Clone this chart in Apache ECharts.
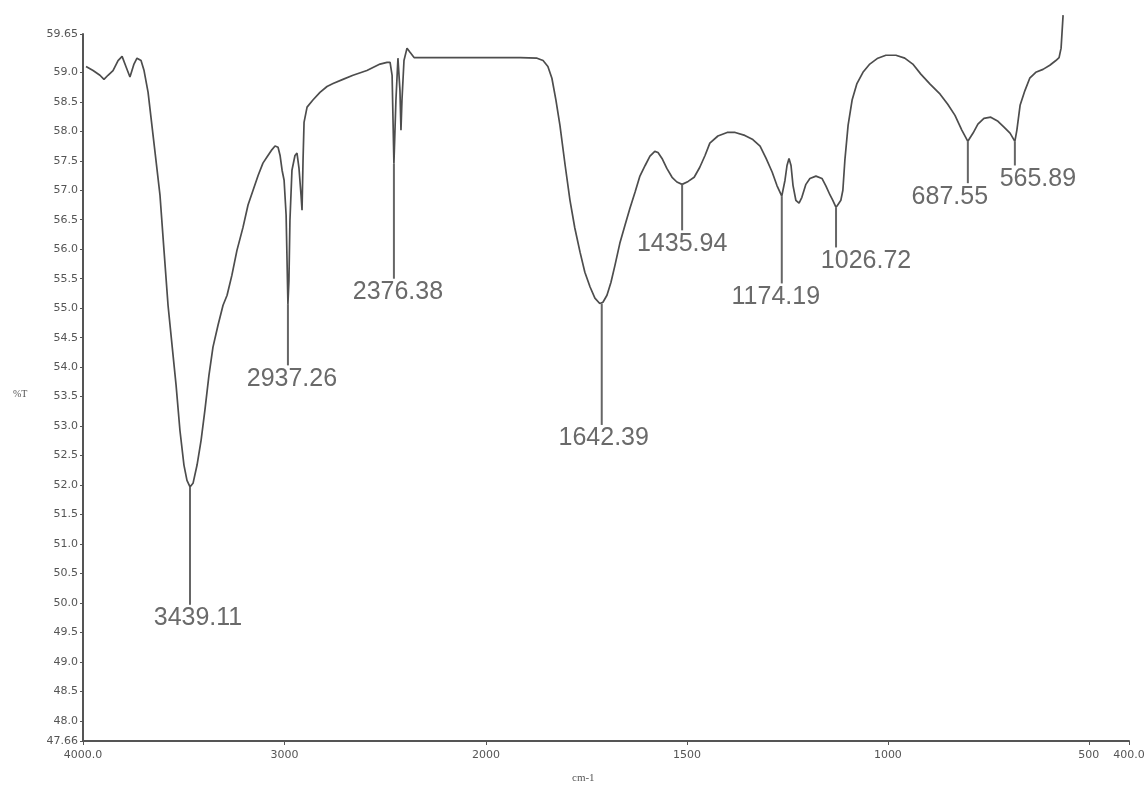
<!DOCTYPE html>
<html>
<head>
<meta charset="utf-8">
<script src="https://cdn.jsdelivr.net/npm/echarts@6/dist/echarts.min.js"></script>
<style>html,body{margin:0;padding:0;background:#fff;}#c{width:1148px;height:787px;}</style>
</head>
<body>
<div id="c"></div>
<script>
// Spectrum (axis units: cm-1, %T)
const waveLeft = [3985,3950,3916,3896,3876,3851,3826,3806,3787,3767,3747,3732,3712,3697,3677,3658,3638,3618,3598,3578,3558,3538,3519,3499,3484,3469,3454,3434,3414,3395,3375,3355,3330,3305,3285,3261,3236,3206,3181,3156,3131,3107,3082,3062,3047,3032,3022,3012,3002,2992,2983,2978,2973,2963,2948,2938,2928,2918,2913,2908,2903,2888,2859,2824,2789,2759,2710,2660,2591,2526,2491,2476,2466,2457,2447,2437,2427,2422,2417,2407,2392,2377,2357,2278,2129,2000];
const transLeft = [59.10,59.03,58.95,58.88,58.95,59.03,59.20,59.27,59.10,58.92,59.14,59.24,59.20,59.03,58.66,58.10,57.51,56.92,55.98,55.05,54.37,53.69,52.93,52.34,52.08,51.97,52.03,52.34,52.76,53.27,53.86,54.34,54.71,55.05,55.22,55.56,55.98,56.37,56.75,57.00,57.25,57.46,57.59,57.69,57.75,57.73,57.59,57.34,57.17,56.58,55.07,55.47,56.49,57.34,57.59,57.63,57.37,56.92,56.66,57.51,58.15,58.41,58.53,58.66,58.76,58.81,58.88,58.95,59.03,59.14,59.17,59.17,58.95,57.45,58.53,59.24,58.69,58.02,58.53,59.20,59.41,59.34,59.25,59.25,59.25,59.25];
const waveRight = [2000,1915,1873,1858,1846,1836,1826,1816,1803,1791,1779,1766,1754,1741,1729,1717,1709,1699,1689,1679,1667,1654,1642,1629,1617,1604,1592,1580,1572,1562,1550,1537,1525,1512,1497,1482,1468,1455,1443,1423,1400,1380,1356,1336,1318,1303,1288,1276,1264,1256,1251,1246,1241,1236,1229,1221,1214,1204,1194,1179,1164,1154,1144,1137,1129,1124,1117,1112,1107,1099,1089,1077,1062,1045,1025,1005,980,958,938,918,895,870,851,833,816,801,788,776,761,744,726,711,696,684,679,671,659,647,632,614,597,582,574,569,564];
const transRight = [59.25,59.25,59.24,59.20,59.10,58.90,58.53,58.10,57.42,56.83,56.36,55.95,55.61,55.36,55.17,55.08,55.10,55.22,55.44,55.73,56.10,56.41,56.69,56.97,57.24,57.42,57.58,57.66,57.64,57.54,57.37,57.22,57.14,57.10,57.15,57.22,57.39,57.59,57.80,57.92,57.98,57.98,57.93,57.86,57.75,57.54,57.31,57.08,56.90,57.17,57.42,57.54,57.42,57.08,56.83,56.78,56.88,57.10,57.20,57.24,57.20,57.07,56.92,56.83,56.71,56.76,56.83,57.00,57.51,58.10,58.53,58.81,59.00,59.14,59.24,59.29,59.29,59.24,59.14,58.97,58.80,58.63,58.46,58.27,58.02,57.83,57.97,58.12,58.22,58.24,58.17,58.07,57.97,57.83,58.02,58.44,58.69,58.90,59.00,59.05,59.12,59.20,59.25,59.41,59.97];

// Peak annotations
const peakLabels = ['3439.11','2937.26','2376.38','1642.39','1435.94','1174.19','1026.72','687.55','565.89'];
const peakWave   = [3469, 2983, 2457, 1712, 1512, 1264, 1129, 801, 684];
const peakTop    = [51.97, 55.07, 57.45, 55.08, 57.10, 56.90, 56.71, 57.83, 57.83];
const peakBottom = [49.97, 54.03, 55.50, 53.02, 56.32, 55.42, 56.03, 57.12, 57.42];

// Tick labels
const yTicks = [47.66,48.0,48.5,49.0,49.5,50.0,50.5,51.0,51.5,52.0,52.5,53.0,53.5,54.0,54.5,55.0,55.5,56.0,56.5,57.0,57.5,58.0,58.5,59.0,59.65];
const xTicksLeft = [4000, 3000];
const xTicksRight = [2000, 1500, 1000, 500, 400];
const xTickText = {4000:'4000.0', 3000:'3000', 2000:'2000', 1500:'1500', 1000:'1000', 500:'500', 400:'400.0'};

// label layout (style only)
const labelDx = [8, 4, 4, 2, 0, -6, 30, -18, 23];

const Y_MIN = 47.66, Y_MAX = 59.65;
const lineColor = '#4d4d4d';
const axisColor = '#555';
const tickFont = {color:'#555', fontSize:11, fontFamily:'DejaVu Sans'};

function pairs(xs, ys){ return xs.map((x,i)=>[x, ys[i]]); }
const peakData = [[],[]];
peakWave.forEach((w,i)=>{ peakData[w >= 2000 ? 0 : 1].push([w, peakTop[i], peakBottom[i], i]); });

function renderPeak(params, api){
  const w = api.value(0);
  const p1 = api.coord([w, api.value(1)]);
  const p2 = api.coord([w, api.value(2)]);
  const i = api.value(3);
  return {type:'group', children:[
    {type:'line', shape:{x1:p1[0], y1:p1[1], x2:p2[0], y2:p2[1]}, style:{stroke:'#666', lineWidth:2}},
    {type:'text', x:p2[0] + labelDx[i], y:p2[1] + 1,
     style:{text:peakLabels[i], fill:'#6a6a6a', font:'25px "Liberation Sans"', textAlign:'center', textVerticalAlign:'top'}}
  ]};
}

function xAxis(idx, min, max, ticks){
  return {
    type:'value', gridIndex:idx, min:min, max:max, inverse:true,
    axisLine:{show:true, lineStyle:{color:axisColor, width:2}},
    axisTick:{show:true, customValues:ticks, length:4, lineStyle:{color:axisColor}},
    axisLabel:{show:true, customValues:ticks, margin:9, formatter:v=>xTickText[v] || String(v), ...tickFont},
    splitLine:{show:false}
  };
}
function yAxis(idx, show){
  return {
    type:'value', gridIndex:idx, min:Y_MIN, max:Y_MAX, show:show,
    axisLine:{show:true, lineStyle:{color:axisColor, width:2}},
    axisTick:{show:true, customValues:yTicks, length:3, lineStyle:{color:axisColor}},
    axisLabel:{show:true, customValues:yTicks, margin:5, padding:[0,0,8,0],
      formatter:v=> (Math.abs(v*2-Math.round(v*2))<1e-6 ? v.toFixed(1) : v.toFixed(2)), ...tickFont},
    splitLine:{show:false}
  };
}

const chart = echarts.init(document.getElementById('c'), null, {renderer:'canvas'});
chart.setOption({
  backgroundColor:'#fff',
  animation:false,
  grid:[
    {left:83, top:34, width:403, height:707},
    {left:486, top:34, width:643, height:707}
  ],
  xAxis:[ xAxis(0, 2000, 4000, xTicksLeft), xAxis(1, 400, 2000, xTicksRight) ],
  yAxis:[ yAxis(0, true), yAxis(1, false) ],
  series:[
    {type:'line', xAxisIndex:0, yAxisIndex:0, data:pairs(waveLeft, transLeft), showSymbol:false, clip:false,
     lineStyle:{color:lineColor, width:1.7}},
    {type:'line', xAxisIndex:1, yAxisIndex:1, data:pairs(waveRight, transRight), showSymbol:false, clip:false,
     lineStyle:{color:lineColor, width:1.7}},
    {type:'custom', xAxisIndex:0, yAxisIndex:0, data:peakData[0], renderItem:renderPeak, clip:false, z:5},
    {type:'custom', xAxisIndex:1, yAxisIndex:1, data:peakData[1], renderItem:renderPeak, clip:false, z:5}
  ],
  graphic:[
    {type:'text', left:13, top:389, style:{text:'%T', fill:'#555', font:'10px "Liberation Serif"'}},
    {type:'text', left:572, top:773, style:{text:'cm-1', fill:'#555', font:'11px "Liberation Serif"'}}
  ]
});
</script>
</body>
</html>
